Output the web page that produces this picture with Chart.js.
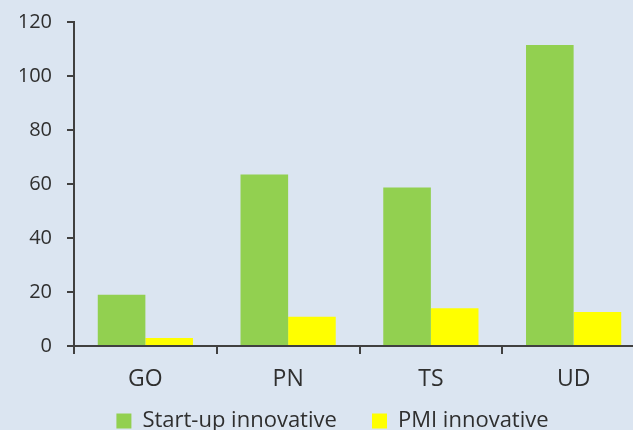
<!DOCTYPE html>
<html>
<head>
<meta charset="utf-8">
<script src="https://cdn.jsdelivr.net/npm/chart.js@4/dist/chart.umd.min.js"></script>
<style>
  html, body { margin: 0; padding: 0; background: #dbe5f1; overflow: hidden; }
  #wrap { width: 645px; height: 430px; }
</style>
</head>
<body>
<div id="wrap"><canvas id="grafico" width="645" height="430"></canvas></div>
<script>
// province
const province = ['GO', 'PN', 'TS', 'UD']
const startup = [19, 63.5, 58.7, 111.5]
const pmi = [3, 10.8, 14, 12.6]
const yTicks = [0, 20, 40, 60, 80, 100, 120]

const axisColor = '#404040'
const font = "'Open Sans', sans-serif"

var ctx = document.getElementById('grafico').getContext('2d')
var chart = new Chart(ctx, {
    type: 'bar',
    data: {
        labels: province,
        datasets: [{
            label: 'Start-up innovative',
            data: startup,
            backgroundColor: '#92d050',
            categoryPercentage: 0.667,
            barPercentage: 1.0
        }, {
            label: 'PMI innovative',
            data: pmi,
            backgroundColor: '#ffff00',
            categoryPercentage: 0.667,
            barPercentage: 1.0
        }]
    },
    options: {
        responsive: false,
        animation: false,
        layout: { padding: { top: 0, left: 20, right: 0, bottom: -12 } },
        plugins: {
            tooltip: { enabled: false },
            legend: {
                position: 'bottom',
                labels: {
                    boxWidth: 15,
                    boxHeight: 15,
                    padding: 18,
                    color: '#2f2f2f',
                    font: { family: font, size: 22 },
                    // un po' di spazio in piu' tra le due voci
                    generateLabels: c => Chart.defaults.plugins.legend.labels.generateLabels(c)
                        .map((l, i) => i === 0 ? { ...l, text: l.text + '   ' } : l)
                }
            }
        },
        scales: {
            y: {
                min: 0,
                max: 120,
                afterBuildTicks: s => { s.ticks = yTicks.map(v => ({ value: v })) },
                afterFit: s => { s.width = 54 },
                ticks: { color: '#2f2f2f', padding: 15, font: { family: font, size: 20, lineHeight: 0.7 } },
                grid: { drawOnChartArea: false, tickLength: 7, color: axisColor, lineWidth: 2 },
                border: { color: axisColor, width: 2 }
            },
            x: {
                afterFit: s => { s.height = 46 },
                ticks: { color: '#2f2f2f', padding: 12, font: { family: font, size: 23 } },
                grid: { drawOnChartArea: false, tickLength: 8, color: axisColor, lineWidth: 2 },
                border: { color: axisColor, width: 2 }
            }
        }
    }
})
</script>
</body>
</html>
